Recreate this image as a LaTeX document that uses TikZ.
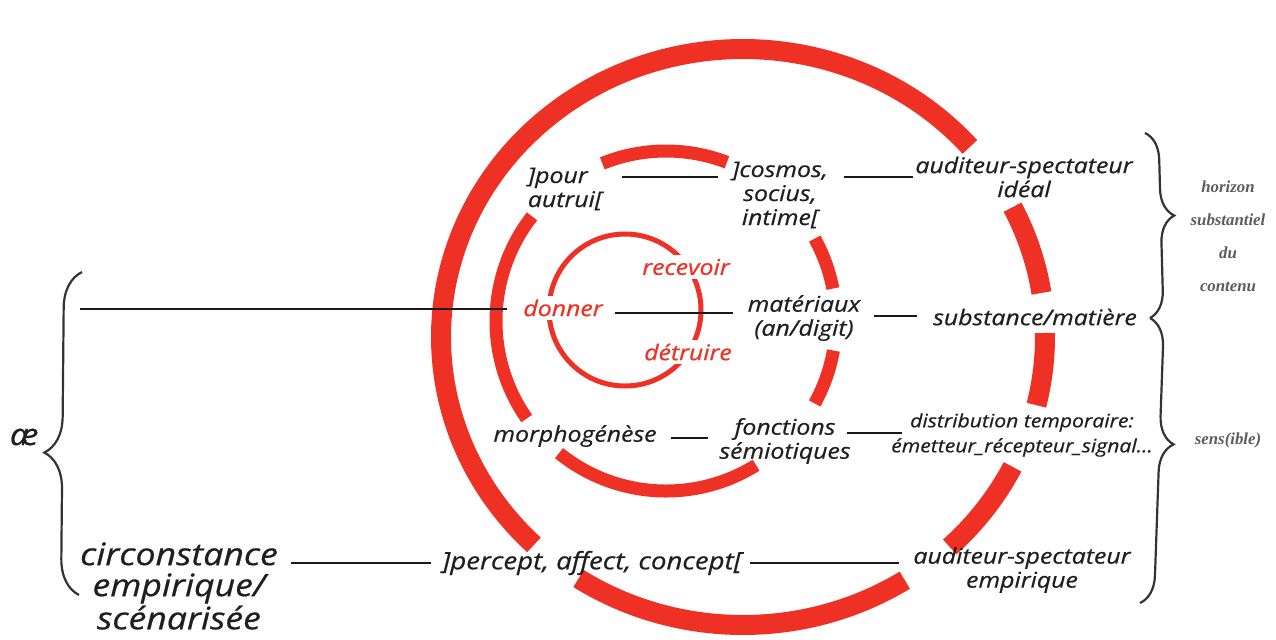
\documentclass[tikz,border=0pt]{standalone}
\usepackage{fontspec}
\setmainfont{Open Sans}
\newfontfamily\handfont[FakeStretch=1.15, FakeBold=0.6]{Open Sans}
\newfontfamily\glossfont{Liberation Serif}
\usetikzlibrary{decorations.pathreplacing}
\definecolor{ringred}{HTML}{EE3124}
\definecolor{inkgray}{HTML}{5C5C5C}
\tikzset{
  lbl/.style={font=\handfont\itshape\fontsize{10.8}{12}\selectfont, align=center,
              inner sep=1pt, text=black!88},
  redlbl/.style={lbl, text=ringred, fill=white, inner sep=2pt},
  biglbl/.style={lbl, font=\handfont\itshape\fontsize{15.5}{15.5}\selectfont},
  smalllbl/.style={lbl, font=\handfont\itshape\fontsize{9.2}{12.5}\selectfont},
  gloss/.style={font=\glossfont\bfseries\itshape\fontsize{8.4}{16.5}\selectfont,
                text=inkgray, align=center},
  link/.style={line width=1.1pt, black!90},
  ring/.style={draw=ringred, line cap=butt},
  curly/.style={decorate, line width=1.1pt, black!80}
}

\begin{document}
\begin{tikzpicture}[x=0.5pt, y=-0.5pt]
  \useasboundingbox (0,0) rectangle (1276,639);
  % outer ring, broken where the texts cross it
  \foreach \a/\b in {-41.3/-226.2, -237/-302.4, -313.2/-333.2, -346.3/-360.8, -8.8/-26.8}
    \draw[ring, line width=10pt] ([shift={(\a:302 and 288)}]743,337)
      arc[start angle=\a, end angle=\b, x radius=302, y radius=288];
  % middle ring
  \foreach \a/\b in {-69/-112, -142/-215, -231/-302, -331/-350, -11/-29}
    \draw[ring, line width=6.5pt] ([shift={(\a:170)}]666,321)
      arc[start angle=\a, end angle=\b, radius=170];
  % inner ring
  \draw[ring, line width=2.5pt] (625,310) circle[radius=76];

  \node[lbl, align=left] (pour) at (565,189) {]pour\\autrui[};
  \node[lbl] (cosmos) at (780,195) {]cosmos,\\socius,\\intime[};
  \node[lbl] (ideal) at (1024,177) {auditeur-spectateur\\idéal};
  \node[redlbl] (recevoir) at (686,267) {recevoir};
  \node[redlbl] (donner) at (563,308) {donner};
  \node[redlbl] (detruire) at (688,352) {détruire};
  \node[lbl] (materiaux) at (804,318) {matériaux\\(an/digit)};
  \node[lbl] (substance) at (1035,317) {substance/matière};
  \node[lbl] (morpho) at (575,436) {morphogénèse};
  \node[lbl] (fonctions) at (785,441) {fonctions\\sémiotiques};
  \node[smalllbl] (distribution) at (1022,435) {distribution temporaire:\\émetteur\_récepteur\_signal…};
  \node[biglbl] (circonstance) at (179,586) {circonstance\\empirique/\\scénarisée};
  \node[lbl, font=\handfont\itshape\fontsize{12}{12}\selectfont] (percept) at (592,563) {]percept, affect, concept[};
  \node[lbl] (empirique) at (1022,570) {auditeur-spectateur\\empirique};
  \node[gloss] (horizon) at (1228,236) {horizon\\substantiel\\du\\contenu};
  \node[gloss] (sensible) at (1228,440) {sens(ible)};
  \node[lbl, font=\handfont\itshape\fontsize{15}{15}\selectfont] (ae) at (24,437) {æ};
  \coordinate (start) at (80,309);

  \draw[link, shorten <=9pt, shorten >=6pt] ([yshift=6pt]pour.east) -- ([yshift=6pt]pour.east -| cosmos.west);
  \draw[link, shorten <=7pt] ([yshift=9pt]cosmos.east) -- ([yshift=9pt]cosmos.east -| ideal.west);
  \draw[link, shorten >=6pt] (start) -- (start -| donner.west);
  \draw[link, shorten <=4pt, shorten >=6pt] ([yshift=-2.5pt]donner.east) -- ([yshift=-2.5pt]donner.east -| materiaux.west);
  \draw[link, shorten <=5.5pt, shorten >=7pt] ([yshift=1pt]materiaux.east) -- ([yshift=1pt]materiaux.east -| substance.west);
  \draw[link, shorten <=6pt, shorten >=4.5pt] ([yshift=-1pt]morpho.east) -- ([yshift=-1pt]morpho.east -| fonctions.west);
  \draw[link, shorten <=-3pt, shorten >=-6.5pt] ([yshift=4pt]fonctions.east) -- ([yshift=4pt]fonctions.east -| distribution.west);
  \draw[link, shorten <=5.5pt, shorten >=4.5pt] ([yshift=11.5pt]circonstance.east) -- ([yshift=11.5pt]circonstance.east -| percept.west);
  \draw[link, shorten <=3pt, shorten >=6pt] (percept.east) -- (percept.east -| empirique.west);

  \draw[curly, decoration={brace, amplitude=18pt, aspect=0.44}] (79,595) -- (82,272);
  \draw[curly, decoration={brace, amplitude=13.5pt, aspect=0.45}] (1145,133) -- (1150,318);
  \draw[curly, decoration={brace, amplitude=14pt, aspect=0.44}] (1150,318) -- (1140,603);
\end{tikzpicture}
\end{document}
